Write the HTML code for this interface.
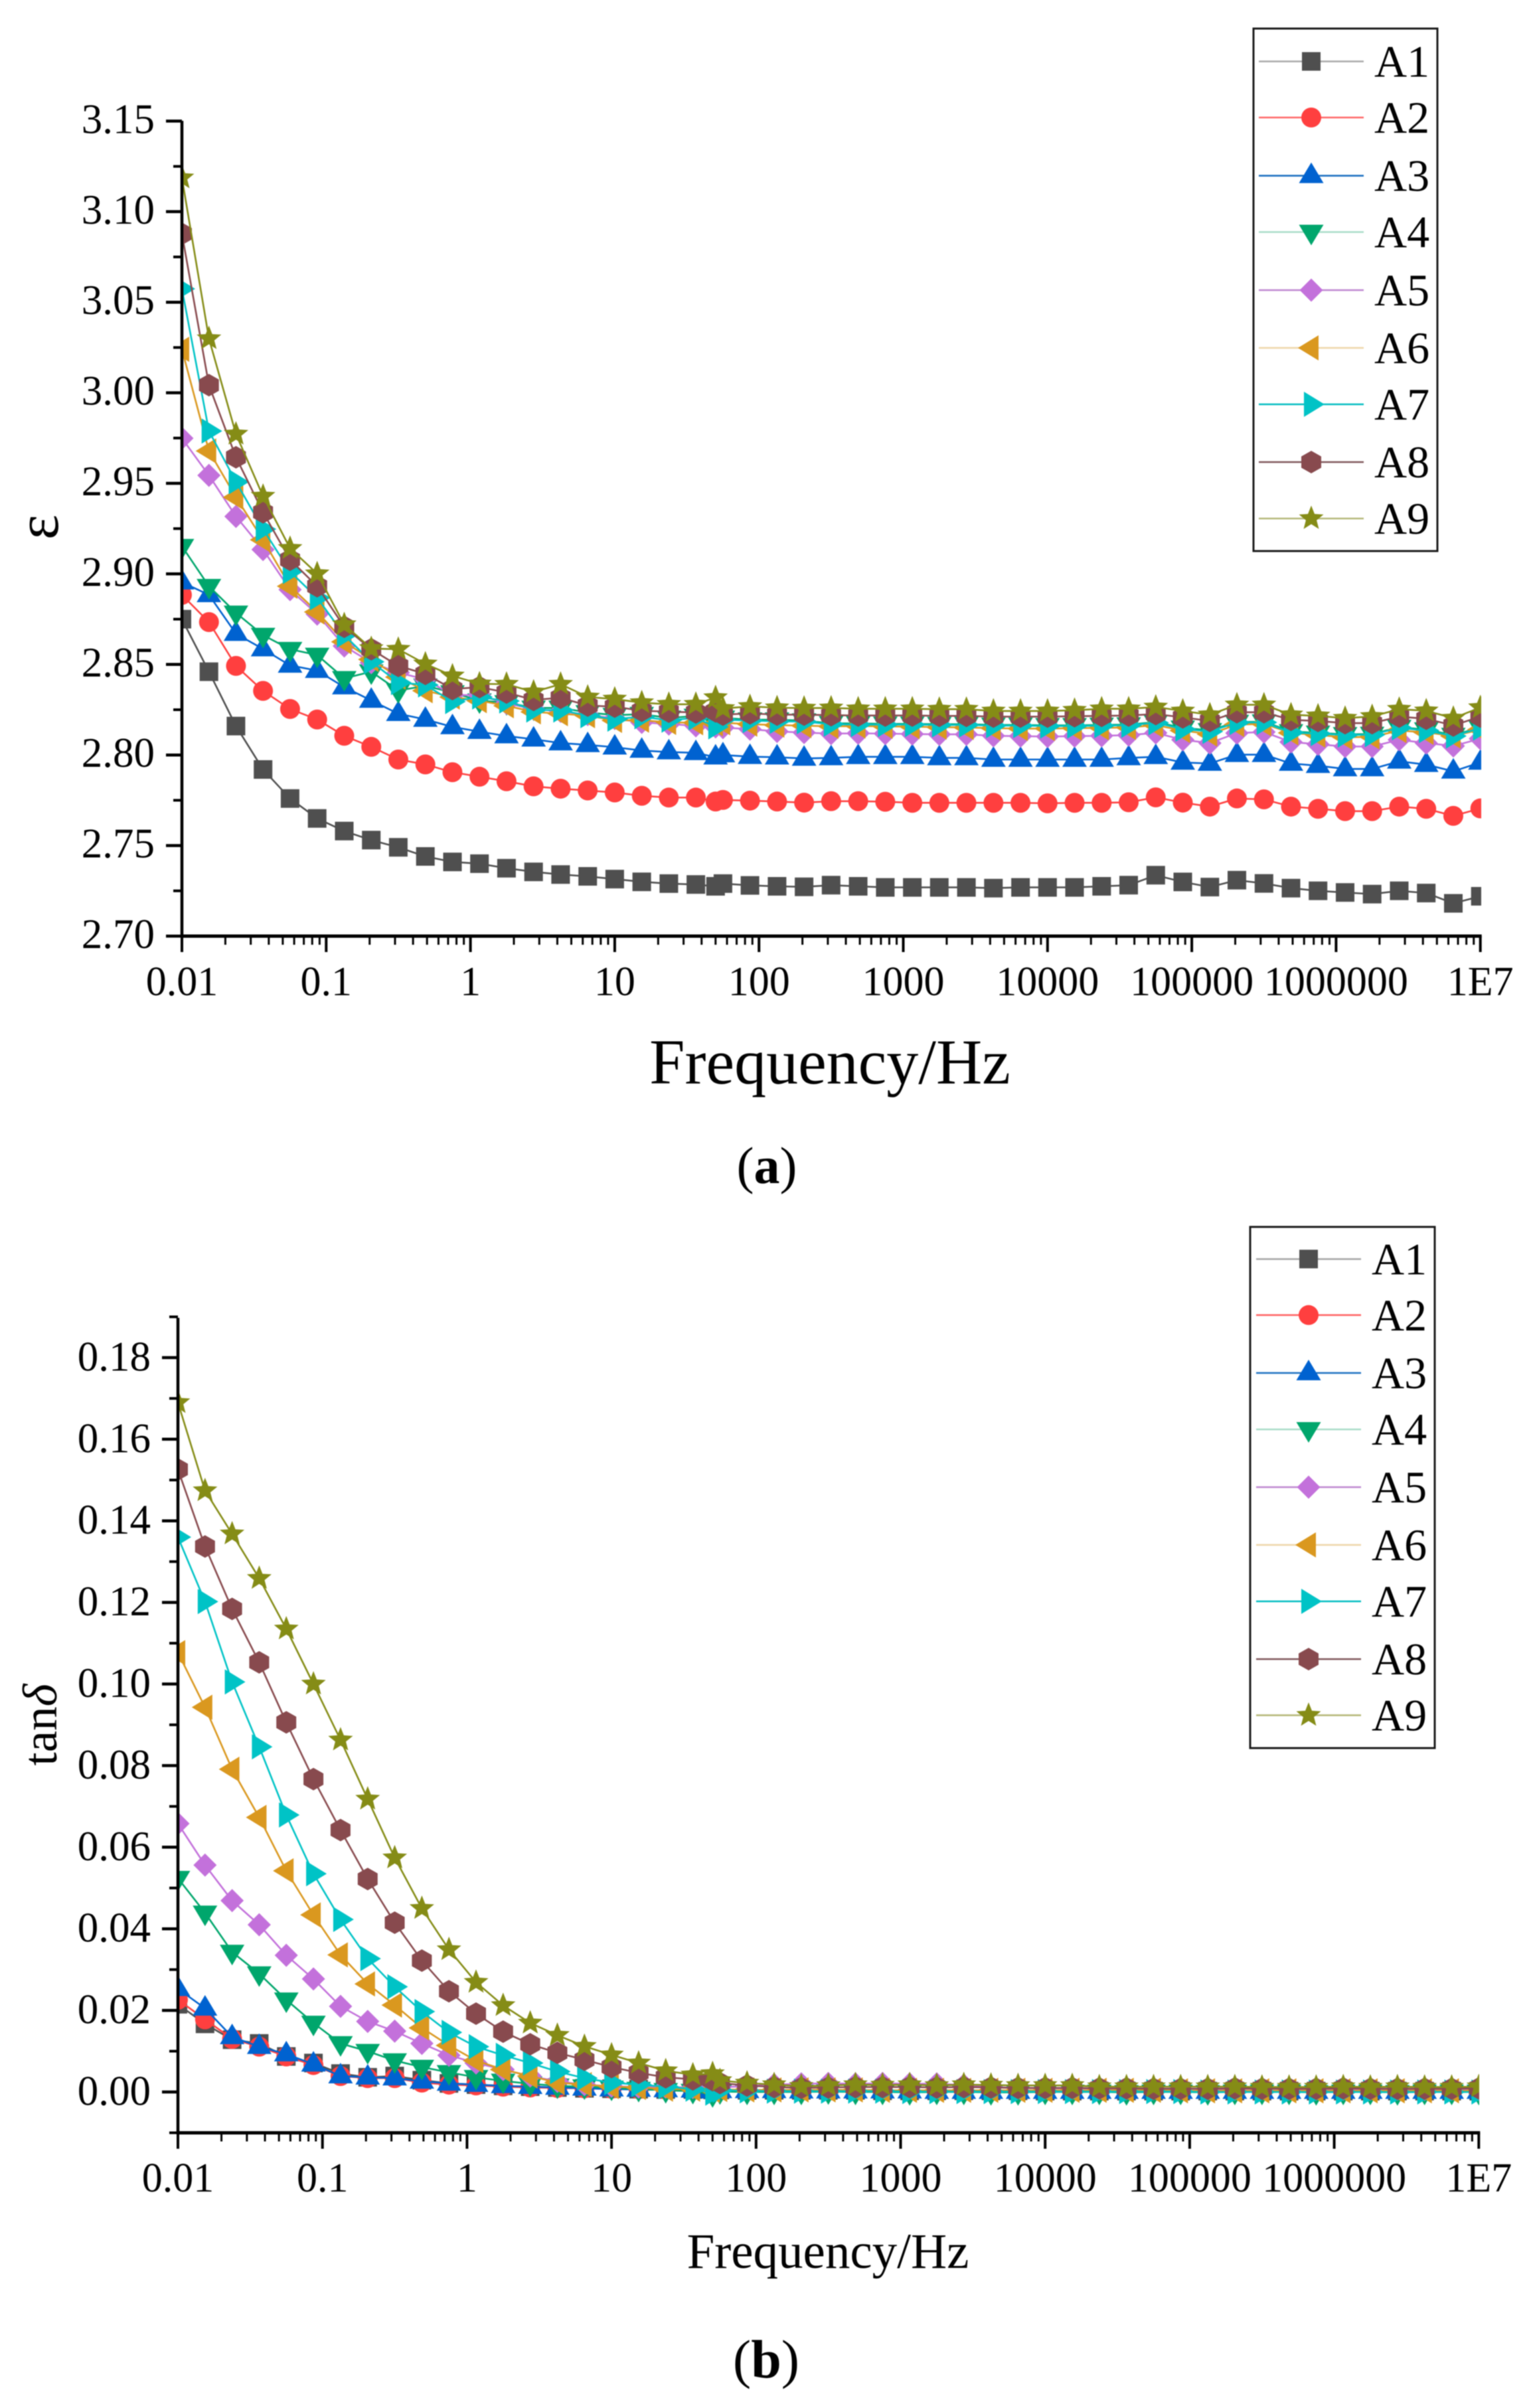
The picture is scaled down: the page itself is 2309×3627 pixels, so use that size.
<!DOCTYPE html>
<html lang="en">
<head>
<meta charset="utf-8">
<title>Dielectric constant and loss versus frequency</title>
<style>
html,body{margin:0;padding:0;background:#fff;}
body{width:2309px;height:3627px;overflow:hidden;}
svg{display:block;filter:blur(0.7px);}
text{font-family:"Liberation Serif","DejaVu Serif",serif;fill:#000;}
</style>
</head>
<body>
<svg id="figure" xmlns="http://www.w3.org/2000/svg" width="2309" height="3627" viewBox="0 0 2309 3627">
  <defs>
    <clipPath id="clip-a"><rect x="274" y="100" width="1957" height="1400"/></clipPath>
    <clipPath id="clip-b"><rect x="268" y="1900" width="1960" height="1400"/></clipPath>
  </defs>
  <g id="chart-a"></g>
  <g id="chart-b"></g>
  <text x="1250" y="1632" font-size="96" text-anchor="middle">Frequency/Hz</text>
  <text transform="translate(87,794) rotate(-90)" font-size="90" text-anchor="middle">ε</text>
  <text x="1155" y="1782" font-size="78" text-anchor="middle">(<tspan font-weight="bold">a</tspan>)</text>
  <text x="1247" y="3416" font-size="75" text-anchor="middle">Frequency/Hz</text>
  <text transform="translate(85,2598) rotate(-90)" font-size="73" text-anchor="middle">tan<tspan font-style="italic">δ</tspan></text>
  <text x="1154" y="3581" font-size="82" text-anchor="middle">(<tspan font-weight="bold">b</tspan>)</text>
</svg>
<script>
const frequencies = [0.01,0.0154,0.0237,0.0365,0.0562,0.0866,0.1334,0.2054,0.3162,0.487,0.75,1.155,1.778,2.738,4.217,6.494,10,15.4,23.71,36.52,50,
56.23,86.6,133.4,205.4,316.2,487,750,1155,1778,2738,4217,6494,10000,15400,23714,36517,56234,86596,133352,205353,316228,486968,749894,1154782,1778279,2738420,4216965,6493816,10000000];
const seriesNames = ["A1","A2","A3","A4","A5","A6","A7","A8","A9"];
const xTickValues = [0.01,0.1,1,10,100,1000,10000,100000,1000000,10000000];
const xTickLabels = ["0.01","0.1","1","10","100","1000","10000","100000","1000000","1E7"];
const xMinorMultipliers = [2,3,4,5,6,7,8,9];
const epsTickValues = [2.70,2.75,2.80,2.85,2.90,2.95,3.00,3.05,3.10,3.15];
const epsTickLabels = ["2.70","2.75","2.80","2.85","2.90","2.95","3.00","3.05","3.10","3.15"];
const epsMinorValues = [2.725,2.775,2.825,2.875,2.925,2.975,3.025,3.075,3.125];
const tanTickValues = [0,0.02,0.04,0.06,0.08,0.10,0.12,0.14,0.16,0.18];
const tanTickLabels = ["0.00","0.02","0.04","0.06","0.08","0.10","0.12","0.14","0.16","0.18"];
const tanMinorValues = [-0.01,0.01,0.03,0.05,0.07,0.09,0.11,0.13,0.15,0.17,0.19];

const epsA1 = [2.875,2.846,2.816,2.792,2.776,2.765,2.758,2.753,2.749,2.744,2.741,2.740,2.7375,2.7355,2.734,2.733,2.7315,2.730,2.729,2.7285,2.7275,
2.729,2.728,2.7275,2.7272,2.7281,2.7275,2.7269,2.7269,2.7269,2.7269,2.7265,2.7269,2.7269,2.7269,2.7275,2.7281,2.7336,2.7299,2.7271,2.7309,2.7291,2.7265,2.7250,2.7241,2.7232,2.7250,2.7238,2.7181,2.7220];
const epsA2 = [2.8884,2.8734,2.8492,2.8354,2.8254,2.8196,2.8106,2.8045,2.7975,2.7948,2.7905,2.788,2.7855,2.7827,2.7814,2.7804,2.7793,2.7775,2.7765,2.7765,2.7743,
2.7752,2.7748,2.7743,2.7737,2.7745,2.7745,2.7742,2.7736,2.7736,2.7736,2.7736,2.7736,2.7733,2.7736,2.7736,2.7739,2.7766,2.7737,2.7715,2.7760,2.7755,2.7715,2.7703,2.7690,2.7690,2.7715,2.7703,2.7664,2.7705];
const epsA3 = [2.8954,2.8884,2.867,2.8585,2.8495,2.8466,2.8375,2.8301,2.8228,2.8196,2.8155,2.8129,2.8105,2.8087,2.8066,2.8056,2.8043,2.8025,2.8016,2.8012,2.7988,
2.80,2.7991,2.7988,2.7981,2.7984,2.799,2.799,2.799,2.7984,2.7984,2.7975,2.7975,2.7975,2.7975,2.7975,2.7984,2.799,2.7959,2.7953,2.8002,2.8002,2.7953,2.7941,2.7923,2.7923,2.7965,2.7947,2.791,2.7959];
const epsA4 = [2.9153,2.8932,2.8785,2.8662,2.8584,2.8552,2.8423,2.846,2.8356,2.8382,2.8345,2.830,2.829,2.826,2.826,2.8235,2.822,2.8225,2.8205,2.8215,2.8175,
2.8205,2.8195,2.8195,2.8190,2.8175,2.8174,2.8172,2.8172,2.8170,2.8170,2.8166,2.8166,2.8164,2.8164,2.8166,2.8168,2.8182,2.8150,2.8136,2.8182,2.8184,2.8130,2.8122,2.8114,2.8116,2.8154,2.8140,2.8110,2.8152];
const epsA5 = [2.9749,2.9544,2.9317,2.9134,2.8913,2.8778,2.8602,2.851,2.8455,2.8418,2.8331,2.8331,2.8285,2.8254,2.8241,2.8223,2.8201,2.818,2.8171,2.8161,2.8155,
2.8151,2.8143,2.813,2.8124,2.8118,2.8120,2.8118,2.8116,2.8114,2.8114,2.8106,2.8104,2.8102,2.8104,2.8106,2.8110,2.8122,2.8084,2.8066,2.8121,2.8127,2.8072,2.8059,2.8047,2.8047,2.8084,2.8066,2.8050,2.8090];
const epsA6 = [3.024,2.9679,2.9423,2.9188,2.8932,2.879,2.8625,2.8528,2.843,2.8355,2.832,2.830,2.8272,2.8238,2.8228,2.8217,2.8191,2.8192,2.818,2.8178,2.8172,
2.8178,2.8170,2.8165,2.8162,2.8158,2.8160,2.8158,2.8156,2.8154,2.8152,2.8148,2.8146,2.8146,2.8148,2.8150,2.8152,2.8165,2.8135,2.8115,2.8168,2.8172,2.8122,2.8110,2.8098,2.8100,2.8135,2.8125,2.8105,2.8140];
const epsA7 = [3.0574,2.9789,2.9508,2.9247,2.9013,2.8868,2.8662,2.8515,2.84,2.8387,2.8295,2.832,2.8298,2.8248,2.8248,2.8217,2.8198,2.8211,2.8192,2.8205,2.8155,
2.8195,2.8190,2.8186,2.8184,2.8170,2.8168,2.8168,2.8168,2.8166,2.8166,2.8162,2.8162,2.8160,2.8160,2.8162,2.8164,2.8178,2.8143,2.8130,2.8179,2.8180,2.8124,2.8118,2.8110,2.8112,2.8150,2.8135,2.8105,2.8148];
const epsA8 = [3.0878,3.0042,2.9644,2.934,2.9078,2.8932,2.8708,2.8584,2.8492,2.8448,2.8364,2.8375,2.8345,2.8304,2.8316,2.8273,2.8267,2.8244,2.8239,2.8235,2.8241,
2.8223,2.8230,2.8223,2.8223,2.8220,2.8218,2.8218,2.8218,2.8216,2.8216,2.8212,2.8212,2.8212,2.8214,2.8216,2.8218,2.8226,2.8208,2.8188,2.8236,2.8236,2.8194,2.8188,2.8176,2.8176,2.8212,2.82,2.8163,2.8212];
const epsA9 = [3.1187,3.0299,2.9772,2.9429,2.9141,2.9001,2.872,2.8588,2.8584,2.8503,2.8437,2.8393,2.8391,2.8348,2.8391,2.832,2.8309,2.8289,2.828,2.828,2.8317,
2.8257,2.8268,2.8261,2.8259,2.8260,2.8255,2.8255,2.8255,2.8253,2.8253,2.8243,2.8243,2.8243,2.8247,2.8255,2.8255,2.8265,2.8243,2.8222,2.8277,2.8277,2.8222,2.8216,2.8203,2.8213,2.8253,2.8244,2.8203,2.8262];

const tanA1 = [0.0215,0.0167,0.0128,0.0119,0.0087,0.0071,0.0045,0.0036,0.0039,0.0029,0.0021,0.0018,0.0015,0.0013,0.0011,0.0009,0.0008,0.0007,0.0006,0.0006,0.0005,
0.0005,0.0004,0.0004,0.0004,0.0004,0.0004,0.0003,0.0003,0.0003,0.0003,0.0003,0.0003,0.0002,0.0002,0.0002,0.0002,0.0002,0.0002,0.0002,0.0002,0.0002,0.0002,0.0002,0.0002,0.0002,0.0002,0.0002,0.0002,0.0002];
const tanA2 = [0.0226,0.0178,0.013,0.0111,0.0087,0.0066,0.0039,0.0034,0.0034,0.0023,0.0018,0.0016,0.0013,0.0011,0.001,0.0009,0.0008,0.0007,0.0006,0.0005,0.0004,
0.0004,0.0004,0.0004,0.0003,0.0003,0.0003,0.0003,0.0003,0.0003,0.0002,0.0002,0.0002,0.0002,0.0002,0.0002,0.0002,0.0002,0.0002,0.0002,0.0002,0.0002,0.0002,0.0002,0.0002,0.0002,0.0002,0.0002,0.0002,0.0002];
const tanA3 = [0.0253,0.0205,0.0135,0.0111,0.0093,0.0068,0.0039,0.0036,0.0034,0.0026,0.0021,0.0018,0.0015,0.0013,0.0011,0.0009,0.0007,0.0006,0.0005,0.0004,0.0002,
0.0003,0.0003,0.0003,0.0002,0.0002,0.0002,0.0002,0.0002,0.0001,0.0001,0.0001,0.0001,0.0001,0.0001,0.0001,0.0001,0.0001,0.0001,0.0001,0.0001,0.0001,0.0001,0.0001,0.0001,0.0001,0.0001,0.0001,0.0001,0.0001];
const tanA4 = [0.0524,0.0439,0.0343,0.029,0.0226,0.0169,0.0119,0.01,0.0077,0.0061,0.0048,0.0036,0.0027,0.002,0.0015,0.0013,0.001,0.0007,0.0004,0.0002,-0.0006,
0.0001,0,0,0,0.0001,0,0,-0.0001,0,0,-0.0001,-0.0001,0,0,0,-0.0001,0,0,-0.0001,0,0,0,-0.0001,0,0,-0.0001,0,0,0];
const tanA5 = [0.0658,0.0556,0.0469,0.041,0.0335,0.0277,0.021,0.0173,0.0149,0.0119,0.009,0.0071,0.0055,0.0039,0.0026,0.0018,0.0014,0.0012,0.0012,0.0011,0.0009,
0.0012,0.0014,0.0018,0.002,0.0021,0.002,0.0021,0.002,0.002,0.0017,0.0012,0.001,0.0009,0.0009,0.0008,0.0008,0.0008,0.0008,0.0007,0.0007,0.0008,0.0007,0.0007,0.0007,0.0007,0.0007,0.0006,0.0007,0.0007];
const tanA6 = [0.1077,0.0943,0.0791,0.0673,0.0542,0.0434,0.0336,0.0265,0.0213,0.0157,0.0114,0.0077,0.0055,0.0039,0.0023,0.0018,0.0013,0.0011,0.0007,0.0007,0.0004,
0.0006,0.0005,0.0005,0.0005,0.0005,0.0005,0.0004,0.0004,0.0004,0.0004,0.0004,0.0004,0.0004,0.0004,0.0004,0.0004,0.0004,0.0003,0.0003,0.0003,0.0003,0.0003,0.0003,0.0003,0.0003,0.0003,0.0003,0.0003,0.0003];
const tanA7 = [0.136,0.1202,0.1005,0.0846,0.0679,0.0535,0.0423,0.0327,0.0258,0.0197,0.0146,0.0111,0.009,0.0071,0.005,0.0034,0.0023,0.0018,0.0013,0.0007,-0.0003,
0.0004,0.0003,0.0002,0.0002,0.0002,0.0002,0.0002,0.0001,0.0001,0.0001,0.0001,0.0001,0.0001,0.0001,0.0001,0.0001,0.0001,0.0001,0,0,0,0,0,0,0,0,0,0,0];
const tanA8 = [0.1526,0.1337,0.1184,0.1053,0.0906,0.0767,0.0642,0.0522,0.0415,0.0322,0.0247,0.0192,0.0148,0.0117,0.0096,0.0079,0.0061,0.0047,0.0036,0.0031,0.0029,
0.0022,0.0016,0.0012,0.001,0.0011,0.0012,0.0012,0.0012,0.0011,0.0012,0.0011,0.001,0.001,0.001,0.0009,0.0009,0.0008,0.0008,0.0008,0.0009,0.0008,0.0008,0.0008,0.0009,0.0008,0.0008,0.0008,0.0008,0.0009];
const tanA9 = [0.169,0.1474,0.1368,0.1259,0.1135,0.10,0.0863,0.0718,0.0574,0.045,0.0349,0.0269,0.0212,0.0169,0.0139,0.0112,0.0091,0.0071,0.0052,0.0042,0.0045,
0.0028,0.0022,0.0018,0.0014,0.0016,0.0018,0.0017,0.0018,0.0016,0.0018,0.0017,0.0016,0.0016,0.0016,0.0013,0.0013,0.0013,0.0013,0.0013,0.0013,0.0012,0.0012,0.0012,0.0013,0.0012,0.0013,0.0012,0.0012,0.0013];

const epsSeries = [epsA1,epsA2,epsA3,epsA4,epsA5,epsA6,epsA7,epsA8,epsA9];
const tanSeries = [tanA1,tanA2,tanA3,tanA4,tanA5,tanA6,tanA7,tanA8,tanA9];

const NS = "http://www.w3.org/2000/svg";
const colors = ["#4f4f4f","#ff3f3f","#0062d0","#00a66c","#c371db","#da981f","#00c3c6","#884a4e","#858c16"];
const legendLineColors = ["#a8a8a8","#ff6666","#1a6fc0","#a8dcc8","#bd85d0","#eed5a8","#00bcc0","#7d5558","#b5b878"];

function markerPath(i, cx, cy) {
  const pts = (list) => "M" + list.map(p => (cx + p[0]).toFixed(1) + " " + (cy + p[1]).toFixed(1)).join("L") + "Z";
  if (i === 0) return pts([[-14,-14],[14,-14],[14,14],[-14,14]]);
  if (i === 1) return "M" + (cx - 15) + " " + cy + "a15 15 0 1 0 30 0a15 15 0 1 0 -30 0Z";
  if (i === 2) return pts([[0,-20],[18.5,11],[-18.5,11]]);
  if (i === 3) return pts([[0,20],[18.5,-11],[-18.5,-11]]);
  if (i === 4) return pts([[0,-17.5],[17.5,0],[0,17.5],[-17.5,0]]);
  if (i === 5) return pts([[-20,0],[11,-19],[11,19]]);
  if (i === 6) return pts([[20,0],[-11,-19],[-11,19]]);
  if (i === 7) return pts([[0,-17],[15,-8.5],[15,8.5],[0,17],[-15,8.5],[-15,-8.5]]);
  const star = [];
  for (let k = 0; k < 10; k++) {
    const r = k % 2 === 0 ? 19.5 : 8.5;
    const a = -Math.PI / 2 + k * Math.PI / 5;
    star.push([r * Math.cos(a), r * Math.sin(a)]);
  }
  return pts(star);
}

function addLine(parent, x1, y1, x2, y2, width, color, name) {
  const el = document.createElementNS(NS, "line");
  el.setAttribute("x1", x1);
  el.setAttribute("y1", y1);
  el.setAttribute("x2", x2);
  el.setAttribute("y2", y2);
  el.setAttribute("stroke", color);
  el.setAttribute("stroke-width", width);
  
  
  parent.appendChild(el);
  return el;
}

function addText(parent, x, y, str, size, anchor, name) {
  const el = document.createElementNS(NS, "text");
  el.setAttribute("x", x);
  el.setAttribute("y", y);
  el.setAttribute("font-size", size);
  el.setAttribute("text-anchor", anchor);
  el.textContent = str;
  
  
  parent.appendChild(el);
  return el;
}

function drawChart(cfg) {
  const root = document.getElementById(cfg.id);
  const xScale = f => cfg.x0 + (Math.log10(f) + 2) * cfg.decade;
  const yScale = v => cfg.yBase - (v - cfg.vBase) * cfg.vScale;
  const xEnd = xScale(10000000);

  const plot = document.createElementNS(NS, "g");
  plot.setAttribute("clip-path", "url(#" + cfg.clip + ")");
  
  
  root.appendChild(plot);

  cfg.series.forEach((vals, s) => {
    const g = document.createElementNS(NS, "g");
    
    
    const line = document.createElementNS(NS, "polyline");
    line.setAttribute("points", vals.map((v, i) => xScale(frequencies[i]).toFixed(1) + "," + yScale(v).toFixed(1)).join(" "));
    line.setAttribute("fill", "none");
    line.setAttribute("stroke", colors[s]);
    line.setAttribute("stroke-width", "2.6");
    
    
    g.appendChild(line);
    vals.forEach((v, i) => {
      const mark = document.createElementNS(NS, "path");
      mark.setAttribute("d", markerPath(s, xScale(frequencies[i]), yScale(v)));
      mark.setAttribute("fill", colors[s]);
      
      
      g.appendChild(mark);
    });
    plot.appendChild(g);
  });

  const axes = document.createElementNS(NS, "g");
  
  
  root.appendChild(axes);

  addLine(axes, cfg.x0, cfg.yTop, cfg.x0, cfg.yBottom + 2.5, 4.5, "#000", "y-axis-line");
  addLine(axes, cfg.x0 - 2, cfg.yBottom, xEnd + 2, cfg.yBottom, 5, "#000", "x-axis-line");

  cfg.yTickValues.forEach((v, i) => {
    const y = yScale(v);
    addLine(axes, cfg.x0 - 24, y, cfg.x0, y, 4.5, "#000", "y-major-tick");
    addText(axes, cfg.x0 - 41, y + cfg.yLabelOffset, cfg.yTickLabels[i], 63, "end", "y-tick-label");
  });
  cfg.yMinorValues.forEach(v => {
    const y = yScale(v);
    addLine(axes, cfg.x0 - 13, y, cfg.x0, y, 4, "#000", "y-minor-tick");
  });
  xTickValues.forEach((f, i) => {
    const x = xScale(f);
    addLine(axes, x, cfg.yBottom, x, cfg.yBottom + 24, 4, "#000", "x-major-tick");
    addText(axes, x, cfg.xLabelY, xTickLabels[i], 62, "middle", "x-tick-label");
    if (i < xTickValues.length - 1) {
      xMinorMultipliers.forEach(m => {
        const xm = xScale(f * m);
        addLine(axes, xm, cfg.yBottom, xm, cfg.yBottom + 13, 3, "#000", "x-minor-tick");
      });
    }
  });

  const legend = document.createElementNS(NS, "g");
  
  
  root.appendChild(legend);
  const box = document.createElementNS(NS, "rect");
  box.setAttribute("x", cfg.legend.left);
  box.setAttribute("y", cfg.legend.top);
  box.setAttribute("width", cfg.legend.right - cfg.legend.left);
  box.setAttribute("height", cfg.legend.bottom - cfg.legend.top);
  box.setAttribute("fill", "#fff");
  box.setAttribute("stroke", "#1a1a1a");
  box.setAttribute("stroke-width", "3");
  
  
  legend.appendChild(box);
  seriesNames.forEach((name, s) => {
    const y = cfg.legend.rows[s];
    const entry = document.createElementNS(NS, "g");
    
    
    legend.appendChild(entry);
    addLine(entry, cfg.legend.lineStart, y, cfg.legend.lineEnd, y, 2.6, legendLineColors[s], "legend-line");
    const m = document.createElementNS(NS, "path");
    m.setAttribute("d", markerPath(s, cfg.legend.markerX, y));
    m.setAttribute("fill", colors[s]);
    
    
    entry.appendChild(m);
    addText(entry, cfg.legend.textX, y + 23, name, 68, "start", "legend-label");
  });
}

drawChart({
  id: "chart-a", clip: "clip-a", series: epsSeries,
  x0: 274, decade: 217.3, yBase: 1410, vBase: 2.70, vScale: 2728,
  yTop: 182, yBottom: 1410, xLabelY: 1499, yLabelOffset: 18,
  yTickValues: epsTickValues, yTickLabels: epsTickLabels, yMinorValues: epsMinorValues,
  legend: { left: 1888, right: 2165, top: 43, bottom: 830, lineStart: 1896, lineEnd: 2054, markerX: 1975, textX: 2070,
    rows: [92.5,177,264.7,349.5,437,524,609,696,781] }
});
drawChart({
  id: "chart-b", clip: "clip-b", series: tanSeries,
  x0: 268, decade: 217.7, yBase: 3151, vBase: 0, vScale: 6145,
  yTop: 1985, yBottom: 3212.5, xLabelY: 3301, yLabelOffset: 19.5,
  yTickValues: tanTickValues, yTickLabels: tanTickLabels, yMinorValues: tanMinorValues,
  legend: { left: 1883, right: 2161, top: 1848, bottom: 2633, lineStart: 1892, lineEnd: 2050, markerX: 1971, textX: 2066,
    rows: [1896.4,1980.8,2068,2153,2240,2327,2412,2499,2583.6] }
});
</script>
</body>
</html>
